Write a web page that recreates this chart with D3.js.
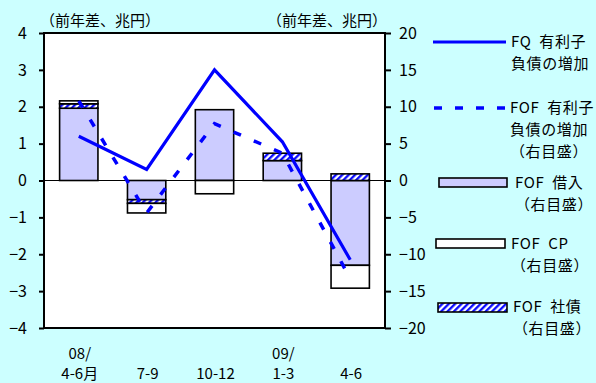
<!DOCTYPE html>
<html>
<head>
<meta charset="utf-8">
<script src="https://cdn.jsdelivr.net/npm/d3@7"></script>
<style>
  html, body { margin: 0; padding: 0; background: #ccffff; }
  svg { display: block; }
  text { font-family: "Noto Sans CJK JP", "Noto Sans", sans-serif; fill: #000; }
</style>
</head>
<body>
<svg id="chart" width="596" height="383"></svg>
<script>
// Quarters (year prefix on a separate line)
const quarters = ["08/4-6", "7-9", "10-12", "09/1-3", "4-6"];
const quarterTop = ["08/", "", "", "09/", ""];
const quarterBottom = ["4-6月", "7-9", "10-12", "1-3", "4-6"];

// Left axis (trillion yen, y/y change): FQ interest-bearing debt
const fqDebt = [1.2, 0.3, 3.0, 1.05, -2.15];

// Right axis (trillion yen, y/y change): Flow of Funds
const fofDebt = [10.8, -4.4, 7.7, 3.7, -13.3];
const fofLoans = [9.8, -2.6, 9.6, 2.7, -11.5];
const fofBonds = [0.6, -0.5, 0.0, 1.0, 0.9];
const fofCP = [0.4, -1.3, -1.8, 0.0, -3.1];

const leftTicks = [-4, -3, -2, -1, 0, 1, 2, 3, 4];
const rightTicks = [-20, -15, -10, -5, 0, 5, 10, 15, 20];

const svg = d3.select("#chart");
const plot = { left: 44, right: 385, top: 33, bottom: 328 };

const x = d3.scaleBand()
  .domain(quarters)
  .range([plot.left, plot.right])
  .paddingInner(0.435)
  .paddingOuter(0.23);
const yL = d3.scaleLinear().domain([-4, 4]).range([plot.bottom, plot.top]);
const yR = d3.scaleLinear().domain([-20, 20]).range([plot.bottom, plot.top]);

// hatch for corporate bonds
const defs = svg.append("defs");
const pat = defs.append("pattern")
  .attr("id", "hatch")
  .attr("patternUnits", "userSpaceOnUse")
  .attr("width", 4.5).attr("height", 4.5)
  .attr("patternTransform", "rotate(45)");
pat.append("rect").attr("width", 4.5).attr("height", 4.5).attr("fill", "#fff");
pat.append("line").attr("x1", 1.2).attr("y1", 0).attr("x2", 1.2).attr("y2", 4.5)
  .attr("stroke", "#0000ff").attr("stroke-width", 2.2);

// plot background
svg.append("rect")
  .attr("x", plot.left).attr("y", plot.top)
  .attr("width", plot.right - plot.left).attr("height", plot.bottom - plot.top)
  .attr("fill", "#fff");

// stacked bars (diverging)
const rows = quarters.map((q, i) => ({ q, loans: fofLoans[i], bonds: fofBonds[i], cp: fofCP[i] }));
const keys = ["loans", "bonds", "cp"];
const fills = { loans: "#ccccff", bonds: "url(#hatch)", cp: "#ffffff" };
const stacked = d3.stack().keys(keys).offset(d3.stackOffsetDiverging)(rows);

svg.append("g").selectAll("g")
  .data(stacked)
  .join("g")
  .attr("fill", d => fills[d.key])
  .selectAll("rect")
  .data(d => d.filter(s => s[1] !== s[0]))
  .join("rect")
  .attr("x", d => x(d.data.q))
  .attr("width", x.bandwidth())
  .attr("y", d => yR(Math.max(d[0], d[1])))
  .attr("height", d => Math.abs(yR(d[0]) - yR(d[1])))
  .attr("stroke", "#000")
  .attr("stroke-width", 1.6);

// zero line
svg.append("line")
  .attr("x1", plot.left).attr("x2", plot.right)
  .attr("y1", yL(0)).attr("y2", yL(0))
  .attr("stroke", "#000").attr("stroke-width", 1);

const cx = q => x(q) + x.bandwidth() / 2;

// FOF interest-bearing debt (dashed, right axis)
svg.append("path")
  .datum(fofDebt)
  .attr("fill", "none")
  .attr("stroke", "#0000ff")
  .attr("stroke-width", 3.5)
  .attr("stroke-dasharray", "8,14")
  .attr("d", d3.line().x((d, i) => cx(quarters[i])).y(d => yR(d)));

// FQ interest-bearing debt (solid, left axis)
svg.append("path")
  .datum(fqDebt)
  .attr("fill", "none")
  .attr("stroke", "#0000ff")
  .attr("stroke-width", 3.2)
  .attr("d", d3.line().x((d, i) => cx(quarters[i])).y(d => yL(d)));

// frame
svg.append("rect")
  .attr("x", plot.left).attr("y", plot.top)
  .attr("width", plot.right - plot.left).attr("height", plot.bottom - plot.top)
  .attr("fill", "none").attr("stroke", "#000").attr("stroke-width", 2);

// axes
const fmt = d => d < 0 ? "−" + Math.abs(d) : String(d);
const axL = svg.append("g")
  .attr("transform", `translate(${plot.left},0)`)
  .call(d3.axisLeft(yL).tickValues(leftTicks).tickSize(5).tickPadding(12).tickFormat(fmt));
const axR = svg.append("g")
  .attr("transform", `translate(${plot.right},0)`)
  .call(d3.axisRight(yR).tickValues(rightTicks).tickSize(6).tickPadding(8).tickFormat(fmt));
[axL, axR].forEach(a => {
  a.select(".domain").remove();
  a.selectAll(".tick line").attr("stroke", "#000").attr("stroke-width", 2);
  a.selectAll(".tick text")
    .style("font-family", '"Noto Sans CJK JP", sans-serif')
    .style("font-size", "16px").attr("fill", "#000");
});

// unit labels
svg.append("text").attr("x", 40).attr("y", 21).attr("dy", "0.35em")
  .style("font-size", "15px").text("（前年差、兆円）");
svg.append("text").attr("x", 387).attr("y", 21).attr("dy", "0.35em")
  .attr("text-anchor", "end").style("font-size", "15px").text("（前年差、兆円）");

// category labels
svg.append("g").selectAll("text")
  .data(quarters)
  .join("text")
  .attr("x", d => cx(d) + 1)
  .attr("y", 354).attr("dy", "0.35em")
  .attr("text-anchor", "middle")
  .style("font-size", "15px")
  .text((d, i) => quarterTop[i]);
svg.append("g").selectAll("text")
  .data(quarters)
  .join("text")
  .attr("x", d => cx(d) + 1)
  .attr("y", 374).attr("dy", "0.35em")
  .attr("text-anchor", "middle")
  .style("font-size", "15px")
  .text((d, i) => quarterBottom[i]);

// legend
const lg = svg.append("g");
const legendText = (lines, x0, y0) => {
  lines.forEach((t, i) => {
    lg.append("text")
      .attr("x", x0).attr("y", y0 + i * 22).attr("dy", "0.35em")
      .style("font-size", "15px").style("white-space", "pre")
      .style("letter-spacing", "0.6px")
      .text(t);
  });
};
lg.append("line").attr("x1", 433).attr("x2", 506).attr("y1", 42).attr("y2", 42)
  .attr("stroke", "#0000ff").attr("stroke-width", 3.2);
legendText(["FQ  有利子", "負債の増加"], 511, 42);

lg.append("line").attr("x1", 434).attr("x2", 505).attr("y1", 108).attr("y2", 108)
  .attr("stroke", "#0000ff").attr("stroke-width", 3.5).attr("stroke-dasharray", "8,13");
legendText(["FOF  有利子", "負債の増加", "（右目盛）"], 510, 108);

lg.append("rect").attr("x", 439).attr("y", 178).attr("width", 68).attr("height", 9)
  .attr("fill", "#ccccff").attr("stroke", "#000").attr("stroke-width", 1.6);
legendText(["FOF  借入", "（右目盛）"], 515, 183);

lg.append("rect").attr("x", 436).attr("y", 239).attr("width", 69).attr("height", 9)
  .attr("fill", "#fff").attr("stroke", "#000").attr("stroke-width", 1.6);
legendText(["FOF  CP", "（右目盛）"], 511, 244);

lg.append("rect").attr("x", 438).attr("y", 303).attr("width", 69).attr("height", 9)
  .attr("fill", "url(#hatch)").attr("stroke", "#000").attr("stroke-width", 1.6);
legendText(["FOF  社債", "（右目盛）"], 513, 307);
</script>
</body>
</html>
